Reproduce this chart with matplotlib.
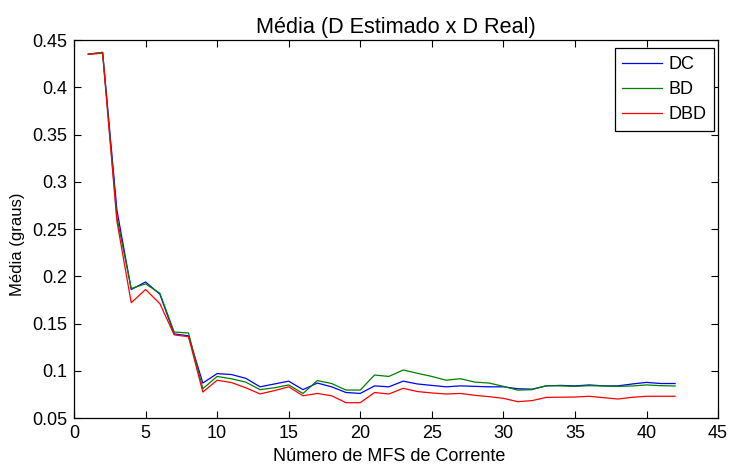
import numpy as np
import matplotlib
matplotlib.use("Agg")
import matplotlib.pyplot as plt

# número de MFS de corrente usados na estimação
n_mfs = list(range(1, 43))

# média do erro (graus) para cada método
media_dc = [0.435, 0.437, 0.270, 0.186, 0.194, 0.181, 0.139, 0.137, 0.087, 0.097,
            0.096, 0.092, 0.083, 0.086, 0.089, 0.080, 0.087, 0.083, 0.077, 0.076,
            0.084, 0.083, 0.089, 0.086, 0.0845, 0.083, 0.084, 0.0835, 0.083, 0.083,
            0.081, 0.0805, 0.084, 0.0845, 0.084, 0.085, 0.084, 0.084, 0.086, 0.0877,
            0.0865, 0.0865]
media_bd = [0.435, 0.437, 0.262, 0.187, 0.192, 0.182, 0.141, 0.140, 0.081, 0.094,
            0.0915, 0.088, 0.080, 0.082, 0.085, 0.076, 0.0896, 0.0865, 0.0796, 0.0796,
            0.0955, 0.094, 0.1008, 0.0973, 0.094, 0.090, 0.0916, 0.088, 0.087, 0.0835,
            0.0795, 0.080, 0.0842, 0.084, 0.0835, 0.0842, 0.0839, 0.0835, 0.0839, 0.085,
            0.0842, 0.0839]
media_dbd = [0.435, 0.436, 0.258, 0.172, 0.186, 0.171, 0.138, 0.136, 0.0775, 0.090,
             0.0875, 0.082, 0.0755, 0.079, 0.083, 0.0735, 0.076, 0.0735, 0.0662, 0.0662,
             0.077, 0.0754, 0.0814, 0.078, 0.0765, 0.0754, 0.076, 0.074, 0.0726, 0.0708,
             0.0673, 0.0684, 0.0718, 0.072, 0.0722, 0.073, 0.0715, 0.0701, 0.0719, 0.073,
             0.073, 0.073]

y_ticks = ["0.05", "0.1", "0.15", "0.2", "0.25", "0.3", "0.35", "0.4", "0.45"]

plt.rcParams["font.family"] = ["Liberation Sans", "DejaVu Sans"]
plt.rcParams["font.size"] = 13

fig = plt.figure(figsize=(7.29, 4.66), dpi=100)
ax = fig.add_axes([0.1015, 0.103, 0.8835, 0.811])

ax.plot(n_mfs, media_dc, color="#0000ff", linewidth=0.9, label="DC")
ax.plot(n_mfs, media_bd, color="#008000", linewidth=0.9, label="BD")
ax.plot(n_mfs, media_dbd, color="#ff0000", linewidth=0.9, label="DBD")

ax.set_xlim(0, 45)
ax.set_ylim(0.05, 0.45)
ax.set_xticks(np.arange(0, 46, 5))
ax.set_yticks(np.arange(0.05, 0.451, 0.05))
ax.set_yticklabels(y_ticks)

# caixa com marcas para dentro em todos os lados
ax.tick_params(direction="in", top=True, right=True, length=5, width=0.8)
ax.tick_params(axis="x", pad=5)
ax.tick_params(axis="y", pad=5)
for s in ax.spines.values():
    s.set_linewidth(0.9)

ax.set_title("Média (D Estimado x D Real)", pad=5)
ax.set_xlabel("Número de MFS de Corrente")
ax.set_ylabel("Média (graus)", fontsize=12)
ax.xaxis.set_label_coords(0.49, -0.079)
ax.yaxis.set_label_coords(-0.076, 0.46)

leg = ax.legend(loc="upper right", bbox_to_anchor=(0.9938, 0.978), borderaxespad=0,
                fancybox=False, framealpha=1, edgecolor="black", handlelength=2.2,
                labelspacing=0.45, borderpad=0.42, handletextpad=0.35)
leg.get_frame().set_linewidth(0.9)

fig.savefig("out.png", dpi=100)
